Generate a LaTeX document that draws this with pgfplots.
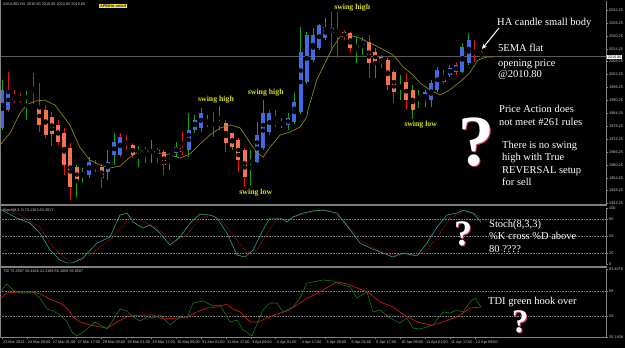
\documentclass[border=0pt]{standalone}
\usepackage{pgfplots}
\pgfplotsset{compat=1.18}
\usepackage{pgfplotstable}
\usetikzlibrary{arrows.meta}
\usepackage{fontspec}
\setmainfont{Liberation Serif}
\newfontfamily\lsans{Liberation Sans}
\definecolor{habull}{RGB}{65,105,225}
\definecolor{habear}{RGB}{245,115,85}
\definecolor{wickg}{RGB}{20,165,20}
\definecolor{wickr}{RGB}{225,20,20}
\definecolor{emac}{RGB}{135,135,15}
\definecolor{stk}{RGB}{35,160,155}
\definecolor{std}{RGB}{190,20,20}
\definecolor{tdig}{RGB}{25,120,25}
\definecolor{tdir}{RGB}{200,25,25}
\definecolor{swing}{RGB}{220,220,20}
\definecolor{axgray}{RGB}{128,128,128}
\definecolor{lblgray}{RGB}{205,205,205}
\definecolor{qpink}{RGB}{200,60,95}
\newcommand\tinyf{\lsans\fontsize{3.8}{4.2}\selectfont}
\newcommand\annf{\fontsize{10.5}{12}\selectfont}
\newcommand\swingf{\bfseries\fontsize{7.8}{8}\selectfont}

\pgfplotstableread{
i o c h l w
0 1977.4 1995.1 1999.7 1976.5 1
1 1985.8 1995.1 2003.4 1984.8 0
2 1990.4 1991.8 1995.1 1989.0 0
3 1991.3 1990.4 1993.6 1989.0 0
4 1990.9 1992.3 1994.6 1981.1 1
5 1995.1 1993.6 2003.0 1988.5 0
6 1987.2 1978.8 1998.3 1975.5 0
7 1985.8 1974.1 1988.1 1972.7 0
8 1982.5 1974.6 1984.8 1969.0 0
9 1978.8 1970.9 1981.1 1969.5 0
10 1975.1 1960.1 1977.4 1955.5 0
11 1968.1 1949.9 1970.4 1943.9 0
12 1959.2 1952.3 1960.1 1945.3 1
13 1955.1 1956.9 1958.8 1951.8 1
14 1955.5 1961.6 1963.9 1954.2 1
15 1959.7 1958.8 1962.5 1956.9 0
16 1959.2 1954.2 1960.6 1949.5 0
17 1956.9 1961.6 1967.2 1953.2 1
18 1964.8 1970.9 1975.1 1960.1 1
19 1964.8 1973.2 1975.1 1963.9 0
20 1970.9 1969.9 1974.1 1967.2 0
21 1969.5 1964.8 1970.4 1963.4 0
22 1965.8 1967.2 1969.0 1959.2 1
23 1967.2 1965.8 1968.5 1961.1 0
24 1965.8 1967.2 1971.8 1961.1 1
25 1967.2 1965.3 1968.1 1961.1 0
26 1966.2 1960.1 1967.2 1955.5 0
27 1963.4 1964.8 1965.8 1957.9 1
28 1965.8 1968.5 1970.9 1963.9 1
29 1968.1 1966.2 1975.5 1964.8 0
30 1967.2 1976.5 1984.3 1963.9 1
31 1976.5 1981.1 1983.4 1975.1 1
32 1977.4 1984.3 1986.7 1975.5 1
33 1979.2 1980.2 1983.4 1977.8 1
34 1979.2 1978.3 1984.8 1973.2 0
35 1978.8 1980.2 1987.6 1976.5 1
36 1979.7 1970.4 1981.1 1966.2 0
37 1975.1 1968.5 1975.1 1967.2 1
38 1971.8 1962.5 1972.7 1956.9 0
39 1967.2 1954.6 1968.1 1949.9 0
40 1961.1 1962.5 1967.2 1950.9 1
41 1961.6 1974.1 1980.2 1961.1 1
42 1968.1 1984.3 1990.4 1967.2 1
43 1975.5 1984.3 1985.8 1974.1 0
44 1980.2 1979.2 1985.8 1977.8 0
45 1980.2 1978.8 1982.0 1977.4 1
46 1978.8 1982.0 1984.3 1976.5 1
47 1980.2 1989.5 1993.6 1979.2 1
48 1984.8 2012.7 2024.3 1983.9 1
49 1998.8 2020.6 2022.0 1997.8 1
50 2009.0 2020.6 2023.9 2008.1 1
51 2014.6 2025.3 2025.8 2013.7 1
52 2019.2 2024.3 2028.5 2018.3 1
53 2021.6 2023.9 2031.3 2013.7 0
54 2023.0 2021.6 2031.3 2009.9 0
55 2022.0 2019.7 2023.0 2018.3 0
56 2021.6 2014.6 2022.0 2012.3 0
57 2016.0 2014.6 2019.7 2007.6 1
58 2016.0 2018.3 2019.7 2011.3 1
59 2017.4 2007.6 2020.6 2000.6 0
60 2012.7 2008.1 2014.6 2000.6 1
61 2010.4 2007.6 2011.3 2005.3 0
62 2009.0 1997.4 2009.9 1995.1 1
63 2003.4 1994.1 2004.4 1989.0 0
64 1997.4 1996.0 2002.0 1990.4 1
65 1998.8 1990.4 2003.0 1985.8 0
66 1995.1 1985.8 1997.4 1981.6 1
67 1992.3 1990.9 1995.1 1986.7 1
68 1990.4 1994.1 1995.1 1987.2 1
69 1990.4 1998.3 1999.7 1987.2 1
70 1995.1 2004.4 2005.7 1994.1 1
71 2001.1 1998.8 2004.4 1997.8 0
72 2002.0 2005.3 2006.7 2001.1 1
73 2003.4 2006.7 2008.1 2002.0 0
74 2003.4 2015.0 2016.9 2002.9 1
75 2007.6 2018.3 2021.6 2006.7 1
76 2013.2 2012.3 2018.3 2008.1 0
77 2012.7 2010.8 2013.2 2009.9 0
}\candles

\pgfplotsset{mt/.style={scale only axis, width=606pt, xmin=-0.32, xmax=97.1,
  axis y line*=right,
  axis line style={axgray, line width=0.5pt},
  tick align=outside, major tick length=2pt, tick style={axgray, line width=0.4pt},
  yticklabel style={font=\tinyf, text=lblgray, inner sep=1pt},
  /pgf/number format/assume math mode=true}}

\begin{document}
\begin{tikzpicture}
\fill[black] (0pt,0pt) rectangle (625pt,-348pt);
\useasboundingbox (0pt,0pt) rectangle (625pt,-348pt);

% ---------- main price panel ----------
\begin{axis}[mt, at={(0pt,-1pt)}, anchor=north west, height=203pt,
  axis x line=none, xtick=\empty,
  ymin=1942.04, ymax=2036.44,
  ytick={1942.25,1948.25,...,2032.25},
  yticklabel style={/pgf/number format/.cd, fixed, fixed zerofill, precision=2, 1000 sep={}}]
\addplot[axgray!70!black, line width=0.6pt, forget plot] coordinates {(-0.32,2010.8) (97.1,2010.8)};
\addplot[only marks, mark=none, forget plot, restrict expr to domain={\thisrow{w}}{0.5:1.5},
  error bars/.cd, y dir=both, y explicit, error mark=none, error bar style={wickg, line width=0.9pt}]
  table[x=i, y expr={(\thisrow{h}+\thisrow{l})/2}, y error expr={(\thisrow{h}-\thisrow{l})/2}] {\candles};
\addplot[only marks, mark=none, forget plot, restrict expr to domain={\thisrow{w}}{-0.5:0.5},
  error bars/.cd, y dir=both, y explicit, error mark=none, error bar style={wickr, line width=0.9pt}]
  table[x=i, y expr={(\thisrow{h}+\thisrow{l})/2}, y error expr={(\thisrow{h}-\thisrow{l})/2}] {\candles};
\addplot[only marks, mark=none, forget plot, restrict expr to domain={\thisrow{c}-\thisrow{o}}{0:1000},
  error bars/.cd, y dir=both, y explicit, error mark=none, error bar style={habull, line width=4pt}]
  table[x=i, y expr={(\thisrow{o}+\thisrow{c})/2}, y error expr={max(abs(\thisrow{o}-\thisrow{c})/2,0.5)}] {\candles};
\addplot[only marks, mark=none, forget plot, restrict expr to domain={\thisrow{c}-\thisrow{o}}{-1000:-0.0001},
  error bars/.cd, y dir=both, y explicit, error mark=none, error bar style={habear, line width=4pt}]
  table[x=i, y expr={(\thisrow{o}+\thisrow{c})/2}, y error expr={max(abs(\thisrow{o}-\thisrow{c})/2,0.5)}] {\candles};
\addplot[emac, line width=0.7pt] coordinates {
(-0.3,1969.5) (1.3,1975.1) (2.9,1984.3) (4.0,1988.1) (5.3,1989.9) (6.9,1990.4) (8.5,1988.1) (10.9,1978.8) (12.5,1968.5) (14.1,1962.5) (15.8,1960.1) (17.4,1958.8) (19.0,1959.7) (20.6,1963.9) (22.2,1966.7) (23.8,1966.7) (25.4,1965.8) (27.0,1964.8) (28.6,1963.4) (30.2,1965.3) (31.8,1969.9) (33.4,1974.1) (35.1,1977.4) (36.7,1978.8) (38.3,1977.4) (39.9,1970.4) (41.0,1965.8) (42.0,1963.9) (43.1,1968.5) (44.7,1974.1) (46.3,1975.5) (47.9,1977.8) (49.0,1982.5) (49.2,1985.8) (50.6,1999.7) (51.6,2005.7) (53.2,2015.0) (54.3,2019.7) (55.5,2020.6) (57.1,2019.7) (59.2,2016.9) (60.8,2014.6) (62.9,2011.3) (64.5,2005.7) (66.1,2002.0) (67.2,1998.3) (68.8,1995.1) (70.4,1992.7) (72.0,1995.1) (73.6,1998.8) (75.2,2003.0) (76.5,2009.0) (78.0,2010.4) (78.9,2010.4)};
\node[font=\swingf, text=swing] at (axis cs:34.4,1990.4) {swing high};
\node[font=\swingf, text=swing] at (axis cs:42.4,1993.6) {swing high};
\node[font=\swingf, text=swing] at (axis cs:56.3,2033.2) {swing high};
\node[font=\swingf, text=swing] at (axis cs:40.8,1947.2) {swing low};
\node[font=\swingf, text=swing] at (axis cs:67.3,1978.8) {swing low};
\end{axis}

% ---------- stochastic panel ----------
\begin{axis}[mt, at={(0pt,-208pt)}, anchor=north west, height=56pt,
  axis x line=none, xtick=\empty,
  ymin=0, ymax=100, ytick={20,50,80}, ymajorgrids,
  grid style={axgray, line width=0.4pt, dash pattern=on 0.8pt off 0.8pt},
  extra y ticks={0,100}, extra y tick style={grid=none}]
\addplot[std, line width=0.6pt, dash pattern=on 0.9pt off 0.9pt] coordinates {
(-0.32,98) (2.89,87.5) (6.11,66) (8.2,30) (10.45,7) (12.06,3.6) (13.67,12.5) (15.76,30) (17.85,48) (20.58,84) (22.19,79) (23.79,70) (25.88,55) (27.49,39) (29.74,52) (31.83,82) (33.92,87.5) (35.53,73) (37.78,43) (39.39,20) (41.0,25) (42.6,55) (44.21,82) (45.82,79) (47.91,87.5) (50.64,95) (52.73,96) (54.82,79) (57.56,43) (60.29,25) (62.86,16) (66.72,16) (68.33,25) (69.94,48) (72.03,82) (74.12,93) (75.72,91) (76.85,84)};
\addplot[stk, line width=0.6pt] coordinates {
(-0.32,98) (2.41,82) (4.50,73) (6.11,55) (7.72,25) (9.32,7) (10.45,2) (11.41,2) (13.02,11) (15.27,37.5) (17.36,48) (18.97,87.5) (20.10,91) (21.06,75) (22.67,64) (23.79,70) (25.40,55) (27.01,34) (28.62,48) (30.23,73) (31.83,89) (33.44,87.5) (34.57,82) (36.17,55) (37.78,16) (39.07,12.5) (40.35,25) (41.96,61) (43.09,82) (44.69,82) (45.82,75) (46.78,84) (48.39,91) (50.0,95) (51.61,96) (53.86,91) (55.95,61) (57.56,37.5) (59.16,28.6) (60.77,21.4) (62.86,12.5) (64.47,19.6) (66.72,14.3) (68.33,37.5) (69.94,66) (71.54,87.5) (73.15,91) (74.12,96) (75.72,91) (77.01,75)};
\end{axis}

% ---------- TDI panel ----------
\begin{axis}[mt, at={(0pt,-269pt)}, anchor=north west, height=68pt,
  axis x line*=bottom,
  ymin=35.14, ymax=83.41, ytick={50,68}, ymajorgrids,
  grid style={axgray, line width=0.4pt, dash pattern=on 0.8pt off 0.8pt},
  extra y ticks={35.1408,83.4076}, extra y tick labels={35.1408,83.4076}, extra y tick style={grid=none},
  xtick={0,4,...,76},
  xticklabels={23 Mar 2023,24 Mar 09:00,27 Mar 01:00,27 Mar 17:00,28 Mar 09:00,29 Mar 01:00,29 Mar 17:00,30 Mar 09:00,31 Mar 01:00,31 Mar 17:00,3 Apr 09:00,4 Apr 01:00,4 Apr 17:00,5 Apr 09:00,6 Apr 01:00,6 Apr 17:00,10 Apr 09:00,11 Apr 01:00,11 Apr 17:00,12 Apr 09:00},
  xticklabel style={font=\tinyf, text=lblgray, anchor=north west, inner sep=0pt, xshift=1pt, yshift=-1.5pt}]
\addplot[tdir, line width=0.7pt] coordinates {
(-0.32,62.1) (0.80,66.4) (2.89,67.1) (4.98,67.1) (6.11,65.7) (7.72,62.1) (9.32,59.3) (10.45,55.7) (11.41,49.4) (12.54,45.8) (14.15,43.7) (15.76,42.3) (16.88,41.5) (18.49,45.8) (20.10,49.4) (22.19,50.8) (24.28,50.8) (25.88,47.9) (28.14,48.6) (29.74,49.4) (31.35,52.9) (32.96,55.7) (34.57,56.4) (36.17,58.6) (37.14,55.0) (38.26,52.9) (39.87,45.8) (41.16,45.8) (42.6,48.6) (44.21,51.5) (45.82,53.6) (47.43,57.9) (49.04,62.8) (50.0,64.5) (51.3,67.8) (53.86,74.2) (55.47,72.8) (57.07,69.9) (58.84,67.1) (60.77,60.0) (62.86,56.4) (65.11,49.4) (67.2,45.1) (69.13,43.7) (70.9,45.8) (73.15,49.4) (75.24,55.7) (77.01,56.4)};
\addplot[tdig, line width=0.6pt] coordinates {
(-0.32,67.1) (0.80,72.8) (1.77,68.5) (2.89,66.4) (4.02,66.4) (4.98,67.1) (6.11,62.8) (7.23,55.0) (8.20,53.6) (9.32,50.8) (10.45,45.8) (11.25,38.7) (12.06,35.9) (13.34,39.4) (14.95,45.8) (15.76,43.7) (16.88,40.8) (17.85,47.2) (18.97,55.0) (20.10,53.6) (21.06,49.4) (22.19,46.5) (23.31,49.4) (24.28,48.6) (25.40,50.8) (27.01,43.7) (28.62,49.4) (29.74,48.6) (30.71,59.3) (32.32,60.7) (33.92,57.2) (35.05,57.9) (36.66,45.8) (37.78,47.2) (38.75,40.1) (40.19,35.9) (41.96,54.3) (43.09,59.3) (44.21,59.3) (45.18,52.9) (46.78,56.4) (47.91,62.8) (49.04,73.5) (50.0,74.2) (51.61,75.6) (53.22,74.9) (54.82,72.05) (55.95,70.6) (57.07,62.8) (58.68,67.1) (59.65,52.9) (60.77,54.3) (62.38,48.6) (63.99,45.1) (65.11,48.6) (66.08,41.5) (67.2,40.8) (68.33,42.3) (69.29,43.7) (70.9,52.9) (72.03,52.2) (73.15,54.3) (74.12,52.9) (75.24,60.0) (76.05,62.8) (77.01,56.4)};
\end{axis}

% ---------- frame decorations ----------
\fill[axgray] (0pt,-203.8pt) rectangle (606.5pt,-206.3pt);
\fill[axgray] (0pt,-265.6pt) rectangle (606.5pt,-267.6pt);
\draw[axgray, line width=0.5pt] (0.4pt,0pt) -- (0.4pt,-337pt);

% ---------- headers ----------
\node[anchor=west, font=\tinyf, text=lblgray, inner sep=0pt] at (3pt,-4.5pt) {XAUUSD,H4\ \ 2010.80 2010.80 2010.80 2010.80};
\node[anchor=west, fill=yellow, text=blue, font=\lsans\bfseries\fontsize{3.8}{4}\selectfont, inner sep=0.9pt] at (99pt,-6pt) {APB/HA on/off};
\node[anchor=west, font=\tinyf, text=lblgray, inner sep=0pt] at (3pt,-210.5pt) {Stoch(8,3,3) 73.1363 83.2817};
\node[anchor=west, font=\tinyf, text=lblgray, inner sep=0pt] at (3pt,-271pt) {TDI 75.4507 58.4646 41.3186 56.1869 56.6507};
\node[anchor=west, fill=white, text=black, font=\tinyf, inner sep=0.6pt] at (607pt,-57pt) {2010.80};

% ---------- annotations ----------
\begin{scope}[every node/.style={anchor=base west, inner sep=0pt, text=white, font=\annf}]
\node at (497pt,-25pt) {HA candle small body};
\node at (498pt,-52pt) {5EMA flat};
\node at (498pt,-66pt) {opening price};
\node at (498pt,-77.5pt) {@2010.80};
\node at (499pt,-112pt) {Price Action does};
\node at (499pt,-125pt) {not meet \#261 rules};
\node at (502pt,-148pt) {There is no swing};
\node at (502pt,-160.5pt) {high with True};
\node at (502pt,-173pt) {REVERSAL setup};
\node at (502pt,-185pt) {for sell};
\node at (489pt,-227pt) {Stoch(8,3,3)};
\node at (489pt,-239.5pt) {\%K cross \%D above};
\node at (489pt,-252pt) {80 ????};
\node at (488pt,-304pt) {TDI green hook over};
\end{scope}
\draw[white, line width=1pt, -{Stealth[length=5pt,width=4.5pt]}] (499pt,-28pt) -- (482pt,-49pt);

% question marks: pink shadow under a white glyph
\newcommand\qm[4]{%
  \node[anchor=base, inner sep=0pt, text=qpink, font=\bfseries\fontsize{#3}{#3}\selectfont, xshift=#4pt, yshift=-#4pt] at (#1pt,#2pt) {?};
  \node[anchor=base, inner sep=0pt, text=white, font=\bfseries\fontsize{#3}{#3}\selectfont] at (#1pt,#2pt) {?};}
\qm{476}{-165}{72}{1.8}
\qm{463}{-245}{36}{1.2}
\qm{520}{-332}{33}{1.2}
\end{tikzpicture}
\end{document}
